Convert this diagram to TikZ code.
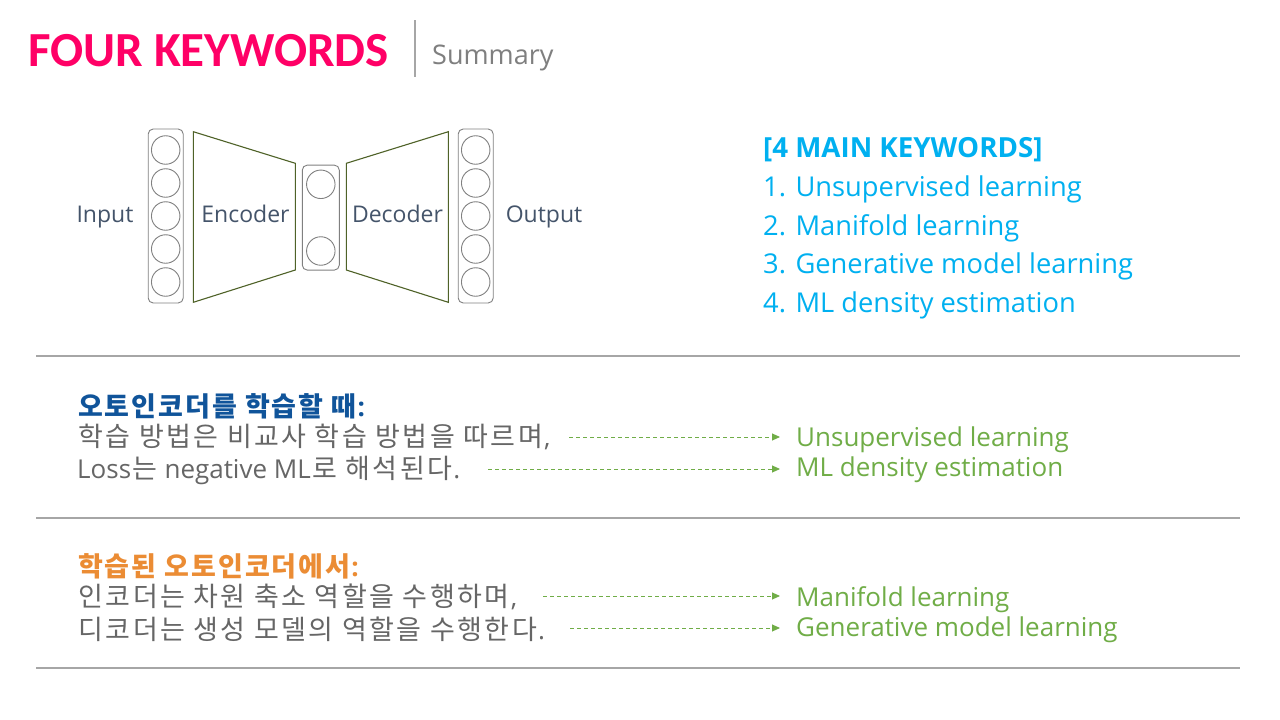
\documentclass[tikz,border=0pt]{standalone}
\usepackage{fontspec}
\setmainfont{Open Sans}
\newfontfamily\krfont{Noto Sans CJK KR}
\newfontfamily\titlefont{Carlito}
\usetikzlibrary{arrows.meta}

% Hangul set on an even pitch: every syllable gets a box of the same width
\makeatletter
\newcommand\hg[2][27.3pt]{\@tfor\hg@c:=#2\do{\makebox[#1]{\hg@c}}}
\makeatother
% Latin words and punctuation inside the Korean lines
\newcommand\krlat[1]{{\rmfamily\fontsize{26}{32}\selectfont #1}}

\definecolor{titlepink}{HTML}{FF0066}
\definecolor{subgray}{HTML}{7F7F7F}
\definecolor{rulegray}{HTML}{A6A6A6}
\definecolor{labelslate}{HTML}{44546A}
\definecolor{netgray}{HTML}{808080}
\definecolor{trapgreen}{HTML}{4F6228}
\definecolor{kwcyan}{HTML}{00B0F0}
\definecolor{headblue}{HTML}{10549A}
\definecolor{headorange}{HTML}{EB8C34}
\definecolor{bodygray}{HTML}{666666}
\definecolor{kwgreen}{HTML}{70AD47}

\begin{document}
\begin{tikzpicture}[x=1pt,y=-1pt,
  txt/.style={inner sep=0pt, anchor=base west},
  sepline/.style={draw=rulegray, line width=2pt},
  layerbox/.style={draw=netgray, line width=0.9pt, rounded corners=5pt, minimum width=35pt},
  neuron/.style={draw=netgray, line width=0.9pt, circle, minimum size=28.5pt, inner sep=0pt},
  trap/.style={draw=trapgreen, line width=1.1pt, line join=miter},
  netlabel/.style={inner sep=0pt, anchor=base, text=labelslate, font=\fontsize{23}{28}\selectfont},
  kwline/.style={txt, text=kwcyan, font=\fontsize{27.3}{32}\selectfont},
  krhead/.style={txt, font=\krfont\bfseries\fontsize{27}{32}\selectfont},
  krbody/.style={txt, text=bodygray, font=\krfont\fontsize{27}{32}\selectfont},
  kwtarget/.style={txt, text=kwgreen, font=\fontsize{26}{31}\selectfont},
  kwarrow/.style={draw=kwgreen, line width=0.9pt, dash pattern=on 4pt off 3pt,
    -{Triangle[length=8pt,width=7pt]}, shorten >=16pt}
]
\useasboundingbox[fill=white] (0,0) rectangle (1280,720);

% ---- header ----
\node[txt, text=titlepink, font=\titlefont\bfseries\fontsize{49}{56}\selectfont] (title) at (28,66) {FOUR KEYWORDS};
\draw[draw=rulegray, line width=2pt] (415,20) -- (415,77);
\node[txt, text=subgray, font=\fontsize{27}{32}\selectfont] (subtitle) at (432,64) {Summary};

% ---- autoencoder sketch ----
\node[layerbox, minimum height=174pt] (inbox) at (165.7,216) {};
\node[layerbox, minimum height=105pt, minimum width=37pt] (codebox) at (320.8,217.6) {};
\node[layerbox, minimum height=174pt] (outbox) at (475.7,216) {};
\foreach \i/\yy in {1/150,2/183,3/216,4/249,5/282}{
  \node[neuron] (in\i) at (165.7,\yy) {};
  \node[neuron] (out\i) at (475.7,\yy) {};
}
\node[neuron] (code1) at (320.8,184.3) {};
\node[neuron] (code2) at (320.8,251) {};

\draw[trap] (193.3,131.7) -- (295.3,163.3) -- (295.3,270) -- (193.3,302.3) -- cycle;
\draw[trap] (346.3,163.3) -- (448.3,131.7) -- (448.3,302.3) -- (346.3,270) -- cycle;

\node[netlabel] (lin)  at (105,222) {Input};
\node[netlabel] (lenc) at (245.5,222) {Encoder};
\node[netlabel] (ldec) at (397.5,222) {Decoder};
\node[netlabel] (lout) at (544,222) {Output};

% ---- keyword list ----
\node[kwline, font=\bfseries\fontsize{27.7}{32}\selectfont] (kwhead) at (763,157) {[4 MAIN KEYWORDS]};
\node[kwline] (kw1) at (763,196) {1. Unsupervised learning};
\node[kwline] (kw2) at (763,235) {2. Manifold learning};
\node[kwline] (kw3) at (763,273) {3. Generative model learning};
\node[kwline] (kw4) at (763,312) {4. ML density estimation};

% ---- separators ----
\draw[sepline] (36,356) -- (1240,356);
\draw[sepline] (36,518) -- (1240,518);
\draw[sepline] (36,668) -- (1240,668);

% ---- training section ----
\node[krhead, text=headblue] (h1) at (77,416)
  {\hg[26.8pt]{오토인코더를} \hg[26.8pt]{학습할} \hg[26.8pt]{때}\krlat{:}};
\node[krbody] (t1) at (77,446)
  {\hg{학습} \hg{방법은} \hg{비교사} \hg{학습} \hg{방법을} \hg{따르며}\krlat{,}};
\node[krbody] (t2) at (77,478)
  {\krlat{Loss}\hg{는} \krlat{negative ML}\hg{로} \hg{해석된다}\krlat{.}};
\node[kwtarget] (g1) at (796,446) {Unsupervised learning};
\node[kwtarget] (g2) at (796,476) {ML density estimation};
\coordinate (s1) at (569,437);
\coordinate (s2) at (488,469);
\draw[kwarrow] (s1) -- (s1 -| g1.west);
\draw[kwarrow] (s2) -- (s2 -| g2.west);

% ---- trained model section ----
\node[krhead, text=headorange] (h2) at (77,576)
  {\hg[26.8pt]{학습된} \hg[26.8pt]{오토인코더에서}\krlat{:}};
\node[krbody] (t3) at (77,606)
  {\hg{인코더는} \hg{차원} \hg{축소} \hg{역할을} \hg{수행하며}\krlat{,}};
\node[krbody] (t4) at (77,639)
  {\hg{디코더는} \hg{생성} \hg{모델의} \hg{역할을} \hg{수행한다}\krlat{.}};
\node[kwtarget] (g3) at (796,606) {Manifold learning};
\node[kwtarget] (g4) at (796,636) {Generative model learning};
\coordinate (s3) at (543,596);
\coordinate (s4) at (570,628);
\draw[kwarrow] (s3) -- (s3 -| g3.west);
\draw[kwarrow] (s4) -- (s4 -| g4.west);
\end{tikzpicture}
\end{document}
